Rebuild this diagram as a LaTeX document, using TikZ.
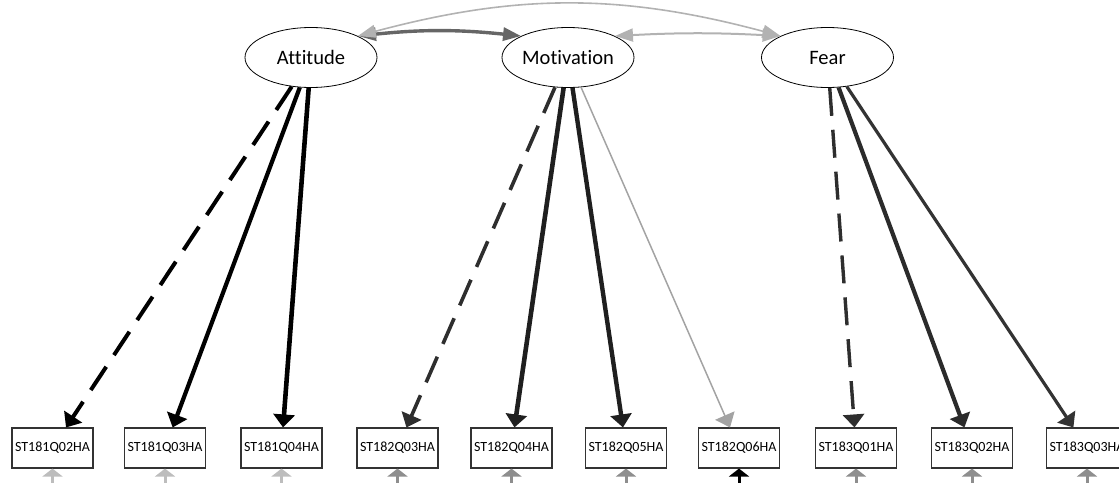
\documentclass[tikz,border=0pt]{standalone}
\usepackage{fontspec}
\setmainfont{Carlito}[Ligatures=NoCommon]
\usetikzlibrary{shapes.geometric,arrows.meta}

\definecolor{covdark}{HTML}{666666}
\definecolor{covlight}{HTML}{B2B2B2}
\definecolor{loadgray}{HTML}{A3A3A3}
\definecolor{residlight}{HTML}{BDBDBD}
\definecolor{residmid}{HTML}{8E8E8E}

\tikzset{
  latent/.style={ellipse, draw, line width=0.8pt, minimum width=132pt,
    minimum height=60pt, inner sep=0pt, font=\fontsize{20.5}{24}\selectfont},
  item/.style={rectangle, draw=black!80, line width=1.1pt, minimum width=81pt,
    minimum height=40pt, inner sep=0pt, font=\fontsize{14}{16}\selectfont},
  load/.style={-{Triangle[length=13pt,width=21pt]}},
  fixed/.style={load, dash pattern=on 28pt off 14pt},
  cov/.style={{Triangle[length=18pt,width=13pt]}-{Triangle[length=18pt,width=13pt]}},
  resid/.style={-{Triangle[length=8pt,width=20pt]}, line width=3pt}
}

\begin{document}
\begin{tikzpicture}[x=1pt, y=-1pt]
    \clip (0,0) rectangle (1119,482);

    % factors
    \node[latent] (att)  at (311,57.5)   {Attitude};
    \node[latent] (mot)  at (568,57.5)   {Motivation};
    \node[latent] (fear) at (827.5,57.5) {Fear};

    % indicators
    \node[item] (st181q02) at (52.5,448)  {ST181Q02HA};
    \node[item] (st181q03) at (165,448)   {ST181Q03HA};
    \node[item] (st181q04) at (281.5,448) {ST181Q04HA};
    \node[item] (st182q03) at (397.5,448) {ST182Q03HA};
    \node[item] (st182q04) at (511.5,448) {ST182Q04HA};
    \node[item] (st182q05) at (626,448)   {ST182Q05HA};
    \node[item] (st182q06) at (739,448)   {ST182Q06HA};
    \node[item] (st183q01) at (856,448)   {ST183Q01HA};
    \node[item] (st183q02) at (972,448)   {ST183Q02HA};
    \node[item] (st183q03) at (1087,448)  {ST183Q03HA};

    % loadings
    \draw[fixed, line width=4pt] (att) -- (st181q02);
    \draw[load, line width=4.2pt] (att) -- (st181q03);
    \draw[load, line width=4.6pt] (att) -- (st181q04);
    \draw[fixed, line width=3.6pt, black!82] (mot) -- (st182q03);
    \draw[load, line width=4.6pt, black!88] (mot) -- (st182q04);
    \draw[load, line width=4.4pt, black!88] (mot) -- (st182q05);
    \draw[load, line width=1.5pt, loadgray] (mot) -- (st182q06);
    \draw[fixed, line width=3.4pt, black!82] (fear) -- (st183q01);
    \draw[load, line width=4.2pt, black!83] (fear) -- (st183q02);
    \draw[load, line width=3.2pt, black!80] (fear) -- (st183q03);

    % covariances
    \draw[cov, line width=3.4pt, covdark] (att.north east) to[bend left=6] (mot.north west);
    \draw[cov, line width=2pt, covlight] (mot.north east) to[bend left=3] (fear.north west);
    \draw[cov, line width=1.6pt, covlight] (att.north east) to[bend left=15] (fear.north west);

    % residuals
    \foreach \b/\col in {st181q02/residlight, st181q03/residlight, st181q04/residlight,
        st182q03/residmid, st182q04/residmid, st182q05/residmid, st182q06/black,
        st183q01/residmid, st183q02/residmid, st183q03/residmid} {
      \path (\b.south) ++(0,30) coordinate (e\b);
      \draw[resid, \col] (e\b) -- (\b);
    }
\end{tikzpicture}
\end{document}
